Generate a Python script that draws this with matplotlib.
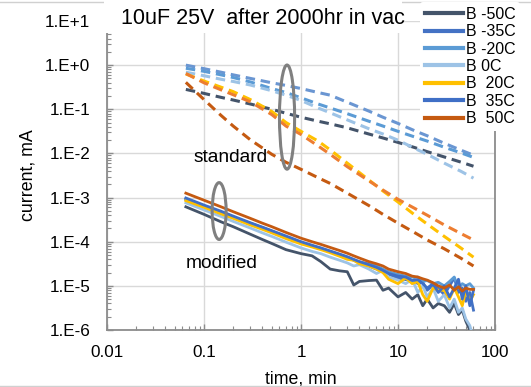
import numpy as np
import matplotlib
matplotlib.use("Agg")
import matplotlib.pyplot as plt
from matplotlib.patches import Ellipse, Rectangle
from matplotlib.ticker import FixedLocator, NullFormatter

plt.rcParams['font.family'] = ['Liberation Sans', 'DejaVu Sans']

# ---------------- data ----------------
labels = ['B -50C', 'B -35C', 'B -20C', 'B 0C', 'B  20C', 'B  35C', 'B  50C']
colors_mod = ['#44546A', '#4472C4', '#5B9BD5', '#9DC3E6', '#FFC000', '#3F6FC6', '#C55A11']
colors_std = ['#44546A', '#6A96D2', '#5B9BD5', '#9DC3E6', '#FFC000', '#ED7D31', '#C55A11']

# "standard" parts (dashed), time in min, current given as log10(mA)
t_std = [0.065, 0.1, 0.15, 0.2, 0.3, 0.5, 0.7, 1, 1.5, 2, 3, 5, 7, 10, 15, 20, 30, 45, 60]
std_m50 = [-0.55, -0.64, -0.73, -0.79, -0.88, -1.00, -1.09, -1.18, -1.27, -1.33, -1.42, -1.56, -1.65, -1.75, -1.87, -1.96, -2.08, -2.20, -2.29]
std_m35 = [0.00, -0.08, -0.16, -0.22, -0.30, -0.40, -0.46, -0.53, -0.62, -0.68, -0.84, -1.04, -1.18, -1.32, -1.49, -1.60, -1.77, -1.93, -2.04]
std_m20 = [-0.07, -0.14, -0.22, -0.28, -0.38, -0.53, -0.62, -0.74, -0.88, -0.97, -1.10, -1.27, -1.38, -1.50, -1.63, -1.72, -1.86, -1.99, -2.09]
std_p0 = [-0.16, -0.24, -0.32, -0.37, -0.45, -0.58, -0.68, -0.80, -0.97, -1.08, -1.24, -1.44, -1.56, -1.70, -1.89, -2.02, -2.22, -2.41, -2.56]
std_p20 = [-0.20, -0.36, -0.50, -0.60, -0.78, -1.05, -1.30, -1.50, -1.72, -1.92, -2.22, -2.60, -2.85, -3.10, -3.40, -3.60, -3.88, -4.15, -4.35]
std_p35 = [-0.19, -0.40, -0.56, -0.67, -0.83, -1.12, -1.38, -1.57, -1.83, -2.02, -2.30, -2.62, -2.83, -3.04, -3.25, -3.40, -3.62, -3.82, -3.96]
std_p50 = [-0.39, -0.78, -1.14, -1.38, -1.69, -2.02, -2.20, -2.36, -2.55, -2.68, -2.90, -3.18, -3.38, -3.58, -3.80, -3.96, -4.16, -4.38, -4.55]

# "modified" parts (solid)
t_mod = [0.065, 0.1, 0.15, 0.2, 0.3, 0.4, 0.5, 0.7, 1.0, 1.3, 1.6, 2.0, 2.5, 3.0, 3.5, 4, 5, 6, 7, 8,
         10, 12, 14, 16, 18, 20, 23, 26, 30, 34, 38, 42, 46, 50, 55, 60]
mod_m50 = [-3.21, -3.38, -3.55, -3.66, -3.83, -3.95, -4.04, -4.18, -4.27, -4.32, -4.45, -4.62, -4.66, -4.68, -4.98, -4.90,
           -4.88, -4.87, -5.10, -5.05, -5.25, -5.15, -5.30, -5.20, -5.45, -5.30, -5.50, -5.40, -5.45, -5.60, -5.40, -5.65,
           -5.55, -5.80, -6.00, -6.30]
mod_m35 = [-3.03, -3.19, -3.33, -3.44, -3.58, -3.68, -3.76, -3.89, -4.02, -4.10, -4.16, -4.23, -4.30, -4.37, -4.42, -4.48,
           -4.55, -4.62, -4.68, -4.74, -4.82, -4.86, -4.84, -4.95, -4.92, -5.10, -4.98, -5.05, -5.20, -5.00, -4.82, -5.15,
           -5.05, -5.35, -5.15, -5.55]
mod_m20 = [-3.05, -3.20, -3.34, -3.45, -3.59, -3.69, -3.77, -3.90, -4.02, -4.09, -4.15, -4.22, -4.29, -4.35, -4.41, -4.46,
           -4.50, -4.55, -4.62, -4.68, -4.74, -4.78, -4.82, -4.80, -4.90, -4.88, -4.95, -4.92, -5.00, -4.90, -4.80, -5.05,
           -4.95, -5.00, -4.95, -5.05]
mod_p0 = [-3.12, -3.28, -3.43, -3.54, -3.69, -3.80, -3.88, -4.01, -4.14, -4.22, -4.27, -4.35, -4.42, -4.48, -4.55, -4.52,
          -4.62, -4.72, -4.65, -4.80, -4.87, -4.95, -4.85, -5.15, -5.00, -5.25, -5.05, -5.35, -5.20, -5.50, -5.30, -5.60,
          -5.50, -5.75, -5.90, -6.20]
mod_p20 = [-3.07, -3.22, -3.37, -3.47, -3.62, -3.72, -3.80, -3.93, -4.05, -4.12, -4.18, -4.25, -4.33, -4.40, -4.42, -4.50,
           -4.55, -4.62, -4.70, -4.85, -4.95, -4.82, -4.95, -4.90, -5.20, -5.35, -5.05, -5.10, -5.10, -5.30, -5.05, -5.25,
           -5.45, -5.10, -5.35, -5.20]
mod_p35 = [-3.01, -3.17, -3.31, -3.42, -3.57, -3.67, -3.75, -3.87, -4.00, -4.08, -4.14, -4.21, -4.28, -4.34, -4.40, -4.45,
           -4.52, -4.58, -4.65, -4.72, -4.78, -4.80, -4.88, -4.86, -4.95, -5.05, -4.95, -5.15, -5.00, -5.25, -5.05, -4.85,
           -5.30, -5.00, -5.45, -5.10]
mod_p50 = [-2.90, -3.06, -3.21, -3.32, -3.47, -3.58, -3.66, -3.79, -3.92, -4.00, -4.06, -4.13, -4.20, -4.26, -4.32, -4.37,
           -4.45, -4.50, -4.55, -4.62, -4.68, -4.72, -4.78, -4.80, -4.84, -4.87, -4.93, -5.00, -5.05, -4.98, -5.10, -5.02,
           -5.12, -5.05, -5.08, -5.08]

std_series = [std_m50, std_m35, std_m20, std_p0, std_p20, std_p35, std_p50]
mod_series = [mod_m50, mod_m35, mod_m20, mod_p0, mod_p20, mod_p35, mod_p50]

title = '10uF 25V  after 2000hr in vac'
x_ticks = [0.01, 0.1, 1, 10, 100]
x_ticklabels = ['0.01', '0.1', '1', '10', '100']
y_ticks = [1e-6, 1e-5, 1e-4, 1e-3, 1e-2, 1e-1, 1e0, 1e1]
y_ticklabels = ['1.E-6', '1.E-5', '1.E-4', '1.E-3', '1.E-2', '1.E-1', '1.E+0', '1.E+1']

# ---------------- figure ----------------
W, H = 531, 387
fig = plt.figure(figsize=(W / 100, H / 100), dpi=100)
ax = fig.add_axes([107 / W, 1 - 330 / H, (495 - 107) / W, (330 - 21) / H])

for vals, c in zip(std_series, colors_std):
    ax.plot(t_std, 10 ** np.array(vals), color=c, lw=2.2, dashes=(3.1, 1.9), zorder=2)

handles = []
for vals, c, lab in zip(mod_series, colors_mod, labels):
    h, = ax.plot(t_mod, 10 ** np.array(vals), color=c, lw=2.0, zorder=3, label=lab)
    handles.append(h)

ax.set_xscale('log')
ax.set_yscale('log')
ax.set_xlim(0.01, 100)
ax.set_ylim(1e-6, 1e1)

ax.xaxis.set_major_locator(FixedLocator(x_ticks))
ax.set_xticklabels(x_ticklabels)
ax.yaxis.set_major_locator(FixedLocator(y_ticks))
ax.set_yticklabels(y_ticklabels)
minors = [m * 10.0 ** e for e in range(-7, 3) for m in range(2, 10)]
ax.xaxis.set_minor_locator(FixedLocator(minors))
ax.yaxis.set_minor_locator(FixedLocator(minors))
ax.xaxis.set_minor_formatter(NullFormatter())
ax.yaxis.set_minor_formatter(NullFormatter())

spine_c = '#8C8C8C'
ax.tick_params(axis='both', which='major', direction='in', length=4, width=1, color=spine_c,
               labelsize=12.3, labelcolor='black')
ax.tick_params(axis='y', which='major', pad=12)
ax.tick_params(axis='x', which='major', pad=11)
ax.tick_params(axis='both', which='minor', direction='in', length=3, width=0.8, color=spine_c)
ax.tick_params(top=False, right=False, which='both')

for s in ['top', 'right']:
    ax.spines[s].set_visible(False)
for s in ['left', 'bottom']:
    ax.spines[s].set_color(spine_c)
    ax.spines[s].set_linewidth(1.3)

ax.grid(True, which='major', color='#D9D9D9', lw=1.0, zorder=0)
ax.set_axisbelow(True)
ax.axvline(100, color=spine_c, lw=1.3, zorder=1, clip_on=False)

ax.set_xlabel('time, min', fontsize=12.8, labelpad=7)
ax.set_ylabel('current, mA', fontsize=12.8, labelpad=6)

# annotations
ax.add_patch(Ellipse((0.464, 0.689), 0.039, 0.337, transform=ax.transAxes, fill=False,
                     edgecolor='#808080', lw=2.2, zorder=5))
ax.add_patch(Ellipse((0.289, 0.385), 0.036, 0.184, transform=ax.transAxes, fill=False,
                     edgecolor='#808080', lw=2.2, zorder=5))
ax.text((231 - 107) / 388, (330 - 157) / 309, 'standard', transform=ax.transAxes,
        ha='center', va='center', fontsize=13.8, zorder=6)
ax.text((222 - 107) / 388, (330 - 263) / 309, 'modified', transform=ax.transAxes,
        ha='center', va='center', fontsize=13.8, zorder=6)

# title box
fig.patches.append(Rectangle((104 / W, 1 - 33 / H), (402 - 104) / W, 33 / H, transform=fig.transFigure,
                             facecolor='white', edgecolor='none', zorder=10))
fig.text(263 / W, 1 - 18 / H, title, ha='center', va='center', fontsize=15.5, zorder=11)

# legend
leg = fig.legend(handles=handles, loc='upper left', bbox_to_anchor=(420 / W, 1 - 2 / H),
                 frameon=True, fontsize=11.5, handlelength=2.4, handletextpad=0.15,
                 labelspacing=0.15, borderpad=0.3, borderaxespad=0)
leg.get_frame().set_facecolor('white')
leg.get_frame().set_edgecolor('none')
leg.get_frame().set_alpha(1)
for line in leg.get_lines():
    line.set_linewidth(3)
leg.set_zorder(12)

# chart border lines
fig.add_artist(plt.Line2D([0, 1], [1 - 1.5 / H, 1 - 1.5 / H], transform=fig.transFigure, color='#D0D0D0', lw=1))
fig.add_artist(plt.Line2D([0, 1], [1.5 / H, 1.5 / H], transform=fig.transFigure, color='#D0D0D0', lw=1))

fig.savefig('out.png', dpi=100)
